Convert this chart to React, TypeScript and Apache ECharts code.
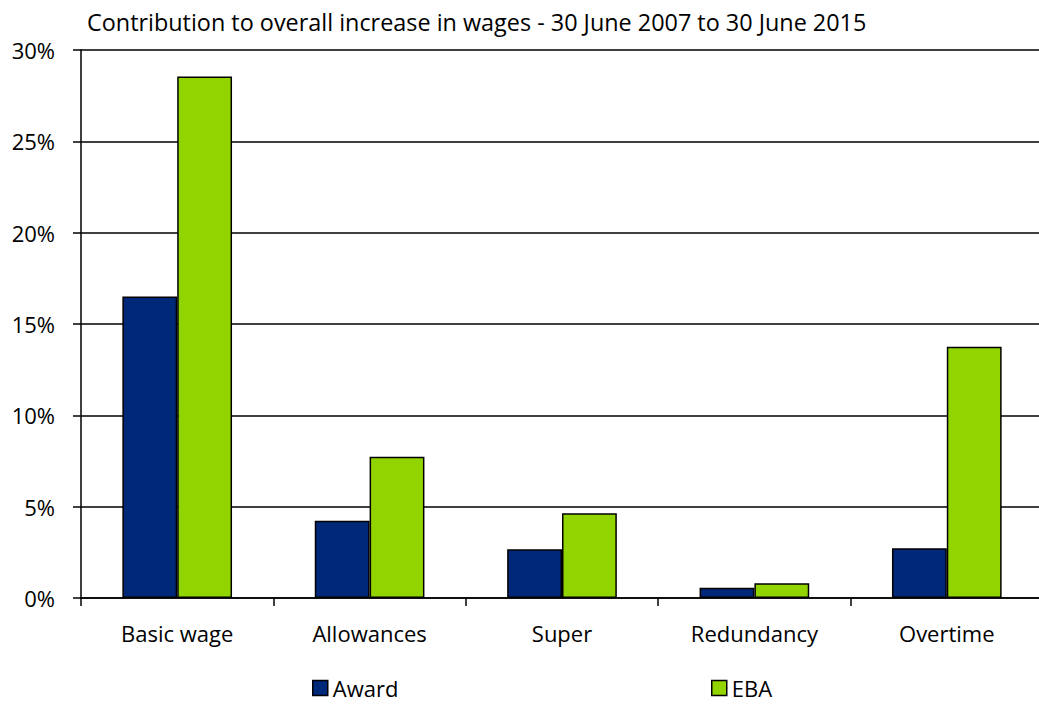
import React, { useEffect, useRef } from "react";
import * as echarts from "echarts";

const categories = ["Basic wage", "Allowances", "Super", "Redundancy", "Overtime"];
const awardValues = [16.5, 4.23, 2.67, 0.56, 2.73];
const ebaValues = [28.55, 7.73, 4.64, 0.81, 13.76];
const yTicks = [0, 5, 10, 15, 20, 25, 30];
const titleText = "Contribution to overall increase in wages - 30 June 2007 to 30 June 2015";

const FONT = "Open Sans";

export default function App() {
  const ref = useRef<HTMLDivElement>(null);
  useEffect(() => {
    document.body.style.margin = "0";
    if (!ref.current) return;
    const chart = echarts.init(ref.current, undefined, { renderer: "svg" });
    const legendText = { fontFamily: FONT, fontSize: 22, color: "#000" };
    const legendItem = { borderColor: "#000", borderWidth: 1.5 };
    chart.setOption({
      animation: false,
      title: {
        text: titleText,
        left: 87,
        top: 10,
        padding: 0,
        textStyle: { fontFamily: FONT, fontSize: 23.4, fontWeight: "normal", color: "#000" },
      },
      grid: { left: 81, top: 50, right: 0, bottom: 106, containLabel: false },
      legend: [
        {
          data: ["Award"],
          left: 312,
          top: 677,
          padding: 0,
          icon: "rect",
          itemWidth: 15,
          itemHeight: 15,
          itemStyle: legendItem,
          textStyle: legendText,
        },
        {
          data: ["EBA"],
          left: 711,
          top: 677,
          padding: 0,
          icon: "rect",
          itemWidth: 15,
          itemHeight: 15,
          itemStyle: legendItem,
          textStyle: legendText,
        },
      ],
      xAxis: {
        type: "category",
        data: categories,
        axisLine: { lineStyle: { color: "#000", width: 1.5 } },
        axisTick: { show: true, length: 8, inside: false, lineStyle: { color: "#000", width: 1.5 } },
        axisLabel: { fontFamily: FONT, fontSize: 22, color: "#000", margin: 24 },
      },
      yAxis: {
        type: "value",
        min: 0,
        max: 30,
        interval: 5,
        axisLine: { show: true, lineStyle: { color: "#000", width: 1.5 } },
        axisTick: { show: true, length: 8, lineStyle: { color: "#000", width: 1.5 } },
        axisLabel: {
          fontFamily: FONT,
          fontSize: 22,
          color: "#000",
          margin: 26,
          formatter: (v: number) => (yTicks.includes(v) ? v + "%" : ""),
        },
        splitLine: { show: true, lineStyle: { color: "#000", width: 1.5 } },
      },
      series: [
        {
          name: "Award",
          type: "bar",
          data: awardValues,
          barGap: "0%",
          barCategoryGap: "43%",
          itemStyle: { color: "#002878", borderColor: "#000", borderWidth: 1.5 },
        },
        {
          name: "EBA",
          type: "bar",
          data: ebaValues,
          barGap: "0%",
          barCategoryGap: "43%",
          itemStyle: { color: "#92D400", borderColor: "#000", borderWidth: 1.5 },
        },
      ],
    });
    return () => chart.dispose();
  }, []);
  return (
    <div style={{ width: 1039, height: 704, overflow: "hidden" }}>
      <div ref={ref} style={{ width: 1043, height: 704 }} />
    </div>
  );
}
